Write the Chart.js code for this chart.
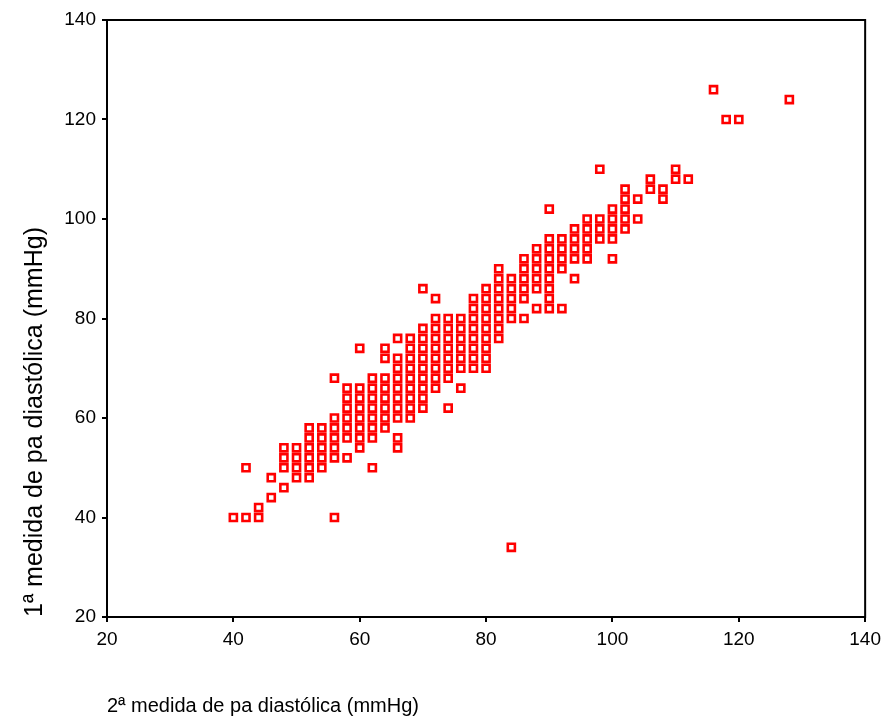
<!DOCTYPE html>
<html>
<head>
<meta charset="utf-8">
<script src="https://cdn.jsdelivr.net/npm/chart.js@4/dist/chart.umd.min.js"></script>
<style>
  body { margin: 0; background: #fff; }
</style>
</head>
<body>
<canvas id="grafico" width="887" height="718"></canvas>
<script>
// 2a medida (eixo x) -> valores da 1a medida (eixo y)
const segundaMedida = [40, 42, 44, 46, 48, 50, 52, 54, 56, 58, 60, 62, 64, 66, 68, 70, 72, 74, 76, 78,
  80, 82, 84, 86, 88, 90, 92, 94, 96, 98, 100, 102, 104, 106, 108, 110, 112, 116, 118, 120, 128];
const primeiraMedida = [
  [40],
  [40, 50],
  [40, 42],
  [44, 48],
  [46, 50, 52, 54],
  [48, 50, 52, 54],
  [48, 50, 52, 54, 56, 58],
  [50, 52, 54, 56, 58],
  [40, 52, 54, 56, 58, 60, 68],
  [52, 56, 58, 60, 62, 64, 66],
  [54, 56, 58, 60, 62, 64, 66, 74],
  [50, 56, 58, 60, 62, 64, 66, 68],
  [58, 60, 62, 64, 66, 68, 72, 74],
  [54, 56, 60, 62, 64, 66, 68, 70, 72, 76],
  [60, 62, 64, 66, 68, 70, 72, 74, 76],
  [62, 64, 66, 68, 70, 72, 74, 76, 78, 86],
  [66, 68, 70, 72, 74, 76, 78, 80, 84],
  [62, 68, 70, 72, 74, 76, 78, 80],
  [66, 70, 72, 74, 76, 78, 80],
  [70, 72, 74, 76, 78, 80, 82, 84],
  [70, 72, 74, 76, 78, 80, 82, 84, 86],
  [76, 78, 80, 82, 84, 86, 88, 90],
  [34, 80, 82, 84, 86, 88],
  [80, 84, 86, 88, 90, 92],
  [82, 86, 88, 90, 92, 94],
  [82, 84, 86, 88, 90, 92, 94, 96, 102],
  [82, 90, 92, 94, 96],
  [88, 92, 94, 96, 98],
  [92, 94, 96, 98, 100],
  [96, 98, 100, 110],
  [92, 96, 98, 100, 102],
  [98, 100, 102, 104, 106],
  [100, 104],
  [106, 108],
  [104, 106],
  [108, 110],
  [108],
  [126],
  [120],
  [120],
  [124]
];
const ticksEixo = [20, 40, 60, 80, 100, 120, 140];

const pontos = [];
segundaMedida.forEach((x, i) => {
  primeiraMedida[i].forEach(y => pontos.push({ x: x, y: y }));
});

Chart.defaults.font.family = '"Liberation Sans", Arial, sans-serif';
Chart.defaults.color = '#000';

// moldura em volta da area do grafico
const moldura = {
  id: 'moldura',
  afterDatasetsDraw(chart) {
    const a = chart.chartArea;
    const c = chart.ctx;
    c.save();
    c.strokeStyle = '#000';
    c.lineWidth = 2;
    c.strokeRect(a.left, a.top, a.right - a.left, a.bottom - a.top);
    c.restore();
  }
};

new Chart(document.getElementById('grafico'), {
  type: 'scatter',
  data: {
    datasets: [{
      data: pontos,
      pointStyle: 'rect',
      pointRadius: 5,
      pointBorderWidth: 2.6,
      borderColor: '#ff0000',
      backgroundColor: 'rgba(0,0,0,0)'
    }]
  },
  options: {
    responsive: false,
    animation: false,
    layout: { padding: { top: 20, right: 20, bottom: 0, left: 0 } },
    plugins: {
      legend: { display: false },
      tooltip: { enabled: false }
    },
    scales: {
      x: {
        min: 20,
        max: 140,
        afterFit: s => { s.height = 101; },
        afterBuildTicks: s => { s.ticks = ticksEixo.map(v => ({ value: v })); },
        border: { display: false },
        grid: { drawOnChartArea: false, drawTicks: true, tickLength: 5, color: '#000', lineWidth: 2 },
        ticks: { padding: 6, font: { size: 19 } },
        title: {
          display: true,
          text: '2ª medida de pa diastólica (mmHg)',
          align: 'start',
          font: { size: 20 },
          padding: { top: 0, bottom: 0 }
        }
      },
      y: {
        min: 20,
        max: 140,
        afterFit: s => { s.width = 107; },
        afterBuildTicks: s => { s.ticks = ticksEixo.map(v => ({ value: v })); },
        border: { display: false },
        grid: { drawOnChartArea: false, drawTicks: true, tickLength: 5, color: '#000', lineWidth: 2 },
        ticks: { padding: 6, font: { size: 19 } },
        title: {
          display: true,
          text: '1ª medida de pa diastólica (mmHg)',
          align: 'start',
          font: { size: 25 },
          padding: { top: 20, bottom: 0 }
        }
      }
    }
  },
  plugins: [moldura]
});
</script>
</body>
</html>
